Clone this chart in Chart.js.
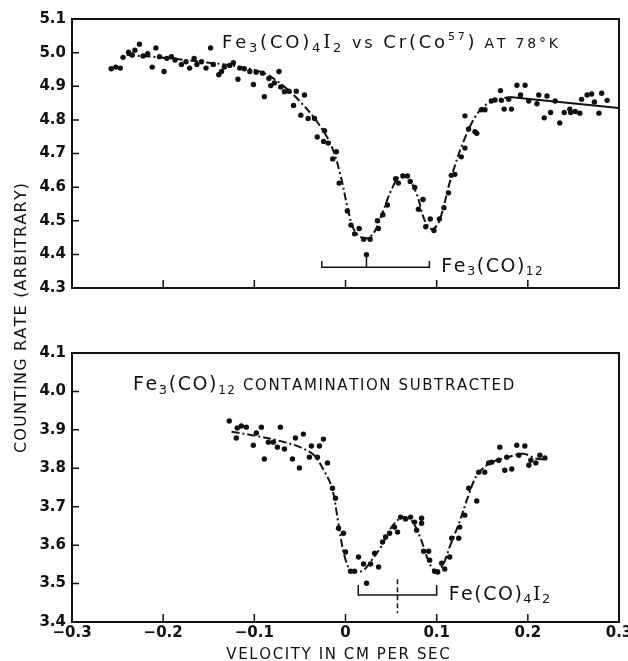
<!DOCTYPE html>
<html>
<head>
<meta charset="utf-8">
<script src="https://cdn.jsdelivr.net/npm/chart.js@4.4.1/dist/chart.umd.min.js"></script>
<style>
  body { margin: 0; background: #fff; }
  .wrap { position: relative; width: 628px; height: 661px; }
  .wrap canvas { position: absolute; left: 0; top: 0; }
</style>
</head>
<body>
<div class="wrap">
  <canvas id="topChart" width="628" height="661"></canvas>
  <canvas id="bottomChart" width="628" height="661"></canvas>
</div>
<script>
// Fe3(CO)4I2 vs Cr(Co57) at 78 K - measured points (velocity cm/s, counting rate)
var topScanX = [-0.257,-0.252,-0.247,-0.244,-0.238,-0.234,-0.231,-0.226,-0.222,-0.217,-0.212,-0.208,-0.204,-0.199,-0.196,-0.191,-0.187,-0.180,-0.175,-0.171,-0.166,-0.163,-0.158,-0.153,-0.148,-0.145,-0.139,-0.136,-0.133,-0.127,-0.123,-0.118,-0.116,-0.111,-0.105,-0.101,-0.098,-0.091,-0.089,-0.084,-0.082,-0.078,-0.073,-0.071,-0.067,-0.062,-0.057,-0.054,-0.049,-0.045,-0.041,-0.034,-0.031,-0.024,-0.023,-0.019,-0.014,-0.010,-0.007,0.002,0.006,0.010,0.015,0.020,0.023,0.027,0.035,0.036,0.041,0.046,0.055,0.058,0.063,0.068,0.071,0.076,0.080,0.085,0.088,0.093,0.097,0.103,0.108,0.113,0.116,0.120,0.127,0.131,0.131,0.135,0.142,0.144,0.149,0.153,0.160,0.164,0.170,0.171,0.174,0.179,0.182,0.188,0.192,0.197,0.201,0.210,0.212,0.218,0.221,0.225,0.230,0.235,0.240,0.246,0.247,0.252,0.257,0.259,0.265,0.270,0.273,0.278,0.281,0.287];
var topScanY = [4.952,4.957,4.954,4.986,5.001,4.993,5.007,5.025,4.990,4.997,4.957,5.014,4.988,4.944,4.983,4.988,4.978,4.965,4.973,4.954,4.983,4.965,4.973,4.954,5.014,4.965,4.934,4.944,4.957,4.962,4.970,4.921,4.954,4.952,4.944,4.905,4.942,4.939,4.869,4.923,4.902,4.910,4.944,4.898,4.884,4.885,4.843,4.885,4.814,4.874,4.804,4.804,4.749,4.736,4.768,4.731,4.684,4.705,4.612,4.529,4.487,4.461,4.477,4.445,4.399,4.445,4.500,4.477,4.518,4.547,4.625,4.612,4.633,4.633,4.617,4.599,4.534,4.563,4.482,4.505,4.471,4.505,4.539,4.583,4.635,4.638,4.690,4.716,4.812,4.773,4.765,4.760,4.830,4.830,4.856,4.859,4.887,4.858,4.832,4.861,4.832,4.903,4.874,4.903,4.856,4.848,4.874,4.806,4.871,4.822,4.856,4.791,4.822,4.832,4.822,4.825,4.820,4.861,4.874,4.877,4.853,4.820,4.879,4.858];

// drawn fit through the top spectrum (dashed), then the straight solid tail
var topFitX = [-0.240,-0.200,-0.150,-0.120,-0.090,-0.070,-0.050,-0.030,-0.015,-0.005,0.003,0.010,0.020,0.030,0.040,0.050,0.060,0.068,0.078,0.087,0.095,0.103,0.115,0.130,0.145,0.160,0.180];
var topFitY = [4.993,4.985,4.970,4.960,4.940,4.905,4.855,4.790,4.720,4.630,4.530,4.470,4.448,4.460,4.520,4.590,4.635,4.630,4.580,4.500,4.475,4.500,4.620,4.740,4.820,4.855,4.868];
var topTailX = [0.180, 0.300];
var topTailY = [4.868, 4.835];

// Fe3(CO)12 contamination subtracted
var bottomScanX = [-0.1275,-0.1187,-0.1198,-0.1143,-0.1088,-0.1011,-0.0978,-0.0923,-0.0890,-0.0846,-0.0791,-0.0747,-0.0714,-0.0670,-0.0582,-0.0549,-0.0505,-0.0462,-0.0396,-0.0374,-0.0308,-0.0286,-0.0242,-0.0198,-0.0143,-0.0110,-0.0077,-0.0022,0.0000,0.0055,0.0099,0.0143,0.0198,0.0231,0.0275,0.0319,0.0363,0.0407,0.0440,0.0484,0.0538,0.0571,0.0604,0.0659,0.0714,0.0758,0.0780,0.0835,0.0835,0.0857,0.0912,0.0923,0.0978,0.1011,0.1055,0.1088,0.1143,0.1165,0.1242,0.1253,0.1308,0.1352,0.1440,0.1462,0.1527,0.1571,0.1604,0.1681,0.1692,0.1747,0.1769,0.1824,0.1879,0.1901,0.1967,0.2011,0.2033,0.2088,0.2132,0.2187];
var bottomScanY = [3.923,3.905,3.879,3.910,3.907,3.860,3.892,3.907,3.824,3.868,3.868,3.855,3.907,3.850,3.824,3.879,3.801,3.889,3.829,3.858,3.829,3.858,3.876,3.814,3.748,3.722,3.644,3.631,3.582,3.532,3.532,3.569,3.551,3.501,3.551,3.579,3.543,3.608,3.621,3.631,3.647,3.634,3.673,3.668,3.673,3.660,3.639,3.670,3.657,3.584,3.584,3.561,3.532,3.530,3.553,3.538,3.569,3.618,3.618,3.647,3.678,3.748,3.715,3.790,3.790,3.814,3.816,3.821,3.855,3.795,3.829,3.798,3.860,3.834,3.858,3.808,3.821,3.814,3.834,3.827];

var bottomFitX = [-0.125,-0.100,-0.070,-0.050,-0.035,-0.025,-0.015,-0.008,-0.002,0.005,0.012,0.020,0.030,0.040,0.050,0.062,0.072,0.082,0.090,0.098,0.106,0.115,0.125,0.135,0.145,0.160,0.180,0.195,0.210,0.220];
var bottomFitY = [3.895,3.885,3.870,3.855,3.835,3.800,3.750,3.660,3.580,3.535,3.530,3.535,3.565,3.600,3.645,3.672,3.665,3.620,3.565,3.532,3.545,3.600,3.660,3.730,3.785,3.815,3.830,3.838,3.825,3.823];

// line positions of the reference compounds (velocity) and bracket level (counting rate)
var fe3co12Lines = [-0.026, 0.023, 0.092];
var fe3co12Level = [4.362, 4.380];
var feco4i2Lines = [0.014, 0.057, 0.100];
var feco4i2Level = [3.470, 3.496, 3.511, 3.423];

var xTickValues = [-0.3, -0.2, -0.1, 0, 0.1, 0.2, 0.3];
var topYRange = [4.3, 5.1];
var bottomYRange = [3.4, 4.1];

var FONT = '"DejaVu Sans"';

function pts(xs, ys) { return xs.map(function (x, i) { return { x: x, y: ys[i] }; }); }

function runWidth(ctx, runs, track) {
  var w = 0;
  runs.forEach(function (r) {
    ctx.font = (r.w || 'normal') + ' ' + r.s + 'px ' + (r.f || FONT);
    for (var ch of r.t) w += ctx.measureText(ch).width + track;
  });
  return w - track;
}
function drawRich(ctx, x, y, runs, track) {
  ctx.textBaseline = 'alphabetic';
  ctx.textAlign = 'left';
  runs.forEach(function (r) {
    ctx.font = (r.w || 'normal') + ' ' + r.s + 'px ' + (r.f || FONT);
    for (var ch of r.t) {
      ctx.fillText(ch, x, y + (r.dy || 0));
      x += ctx.measureText(ch).width + track;
    }
  });
}

function frameAndTicks(chart) {
  var ctx = chart.ctx, a = chart.chartArea;
  var xs = chart.scales.x, ys = chart.scales.y;
  ctx.save();
  ctx.strokeStyle = '#111';
  ctx.lineWidth = 2;
  ctx.strokeRect(a.left, a.top, a.right - a.left, a.bottom - a.top);
  ctx.lineWidth = 1.5;
  ctx.beginPath();
  ys.ticks.forEach(function (t) {
    var py = ys.getPixelForValue(t.value);
    ctx.moveTo(a.left, py); ctx.lineTo(a.left + 7, py);
  });
  xTickValues.slice(1, -1).forEach(function (v) {
    var px = xs.getPixelForValue(v);
    ctx.moveTo(px, a.bottom); ctx.lineTo(px, a.bottom - 8);
  });
  ctx.stroke();
  ctx.restore();
}

var topDecor = {
  id: 'topDecor',
  afterDraw: function (chart) {
    var ctx = chart.ctx, a = chart.chartArea;
    var xs = chart.scales.x, ys = chart.scales.y;
    frameAndTicks(chart);
    ctx.save();
    ctx.fillStyle = '#111';
    ctx.strokeStyle = '#111';
    // bracket for Fe3(CO)12
    var x0 = xs.getPixelForValue(fe3co12Lines[0]), x1 = xs.getPixelForValue(fe3co12Lines[1]), x2 = xs.getPixelForValue(fe3co12Lines[2]);
    var yb = ys.getPixelForValue(fe3co12Level[0]), yt = ys.getPixelForValue(fe3co12Level[1]);
    ctx.lineWidth = 1.5;
    ctx.beginPath();
    ctx.moveTo(x0, yt); ctx.lineTo(x0, yb); ctx.lineTo(x2, yb); ctx.lineTo(x2, yt);
    ctx.moveTo(x1, yb); ctx.lineTo(x1, yt - 4);
    ctx.stroke();
    drawRich(ctx, x2 + 12, yb + 5, [
      { t: 'Fe', s: 19 }, { t: '3', s: 13, dy: 3 }, { t: '(CO)', s: 19 }, { t: '12', s: 12, dy: 3 }
    ], 1.5);
    // title
    drawRich(ctx, a.left + 150, a.top + 29, [
      { t: 'Fe', s: 18 }, { t: '3', s: 13, dy: 4 }, { t: '(CO)', s: 18 }, { t: '4', s: 13, dy: 4 },
      { t: 'I', s: 18, f: '"DejaVu Serif"' }, { t: '2', s: 13, dy: 4 },
      { t: ' vs ', s: 16 }, { t: 'Cr(Co', s: 18 }, { t: '57', s: 11, dy: -8 }, { t: ')', s: 18 },
      { t: ' AT 78°K', s: 14 }
    ], 2.8);
    ctx.restore();
  }
};

var bottomDecor = {
  id: 'bottomDecor',
  afterDraw: function (chart) {
    var ctx = chart.ctx, a = chart.chartArea;
    var xs = chart.scales.x, ys = chart.scales.y;
    frameAndTicks(chart);
    ctx.save();
    ctx.fillStyle = '#111';
    ctx.strokeStyle = '#111';
    // bracket for Fe(CO)4I2
    var x0 = xs.getPixelForValue(feco4i2Lines[0]), x1 = xs.getPixelForValue(feco4i2Lines[1]), x2 = xs.getPixelForValue(feco4i2Lines[2]);
    var yb = ys.getPixelForValue(feco4i2Level[0]), yt = ys.getPixelForValue(feco4i2Level[1]);
    ctx.lineWidth = 1.5;
    ctx.beginPath();
    ctx.moveTo(x0, yt); ctx.lineTo(x0, yb); ctx.lineTo(x2, yb); ctx.lineTo(x2, yt);
    ctx.stroke();
    ctx.setLineDash([5, 3]);
    ctx.beginPath();
    ctx.moveTo(x1, ys.getPixelForValue(feco4i2Level[2]));
    ctx.lineTo(x1, ys.getPixelForValue(feco4i2Level[3]));
    ctx.stroke();
    ctx.setLineDash([]);
    drawRich(ctx, x2 + 12, yb + 5, [
      { t: 'Fe', s: 19 }, { t: '(CO)', s: 19 }, { t: '4', s: 13, dy: 3 },
      { t: 'I', s: 19, f: '"DejaVu Serif"' }, { t: '2', s: 13, dy: 3 }
    ], 1.5);
    // panel title
    drawRich(ctx, a.left + 61, a.top + 37, [
      { t: 'Fe', s: 19 }, { t: '3', s: 13, dy: 4 }, { t: '(CO)', s: 19 }, { t: '12', s: 12, dy: 4 },
      { t: ' CONTAMINATION SUBTRACTED', s: 15 }
    ], 1.6);
    // x axis title
    var xt = [{ t: 'VELOCITY IN CM PER SEC', s: 15 }];
    var w = runWidth(ctx, xt, 1.6);
    drawRich(ctx, 338 - w / 2, 659, xt, 1.6);
    // y axis title, spans both panels
    var yt2 = [{ t: 'COUNTING RATE (ARBITRARY)', s: 16 }];
    var wy = runWidth(ctx, yt2, 1.2);
    ctx.translate(26, 318);
    ctx.rotate(-Math.PI / 2);
    drawRich(ctx, -wy / 2, 0, yt2, 1.2);
    ctx.restore();
  }
};

function tickFmt(v) {
  if (Math.abs(v) < 1e-9) return '0';
  return v.toFixed(1).replace('-', '\u2212');
}

function makeChart(id, scan, fits, yRange, pad, showX, plugin) {
  var datasets = [{
    data: scan,
    showLine: false,
    pointRadius: 2.7,
    pointBackgroundColor: '#111',
    pointBorderWidth: 0
  }];
  fits.forEach(function (f) {
    datasets.push({
      data: f.data,
      showLine: true,
      pointRadius: 0,
      borderColor: '#111',
      borderWidth: 2,
      borderDash: f.dash,
      tension: 0.35,
      fill: false
    });
  });
  return new Chart(document.getElementById(id), {
    type: 'scatter',
    data: { datasets: datasets },
    options: {
      responsive: false,
      animation: false,
      events: [],
      layout: { padding: pad },
      plugins: { legend: { display: false }, tooltip: { enabled: false } },
      scales: {
        x: {
          type: 'linear', min: -0.3, max: 0.3,
          display: showX,
          grid: { display: false, drawTicks: false },
          border: { display: false },
          afterBuildTicks: function (s) { s.ticks = xTickValues.map(function (v) { return { value: v }; }); },
          afterFit: function (s) { s.height = 39; s.paddingLeft = 0; s.paddingRight = 0; },
          ticks: {
            padding: 2, maxRotation: 0, autoSkip: false,
            color: '#111', font: { family: 'DejaVu Sans', size: 15, weight: 'bold' },
            callback: tickFmt
          }
        },
        y: {
          type: 'linear', min: yRange[0], max: yRange[1],
          grid: { display: false, drawTicks: false },
          border: { display: false },
          afterFit: function (s) { s.width = 72; },
          ticks: {
            stepSize: 0.1, padding: 6,
            color: '#111', font: { family: 'DejaVu Sans', size: 15, weight: 'bold' },
            callback: function (v) { return Number(v).toFixed(1); }
          }
        }
      }
    },
    plugins: [plugin]
  });
}

makeChart('topChart', pts(topScanX, topScanY), [
  { data: pts(topFitX, topFitY), dash: [8, 3, 2, 3] },
  { data: pts(topTailX, topTailY), dash: [] }
], topYRange, { top: 19, left: 0, right: 9, bottom: 334 }, false, topDecor);

makeChart('bottomChart', pts(bottomScanX, bottomScanY), [
  { data: pts(bottomFitX, bottomFitY), dash: [8, 3, 2, 3] }
], bottomYRange, { top: 353, left: 0, right: 9, bottom: 0 }, true, bottomDecor);
</script>
</body>
</html>
